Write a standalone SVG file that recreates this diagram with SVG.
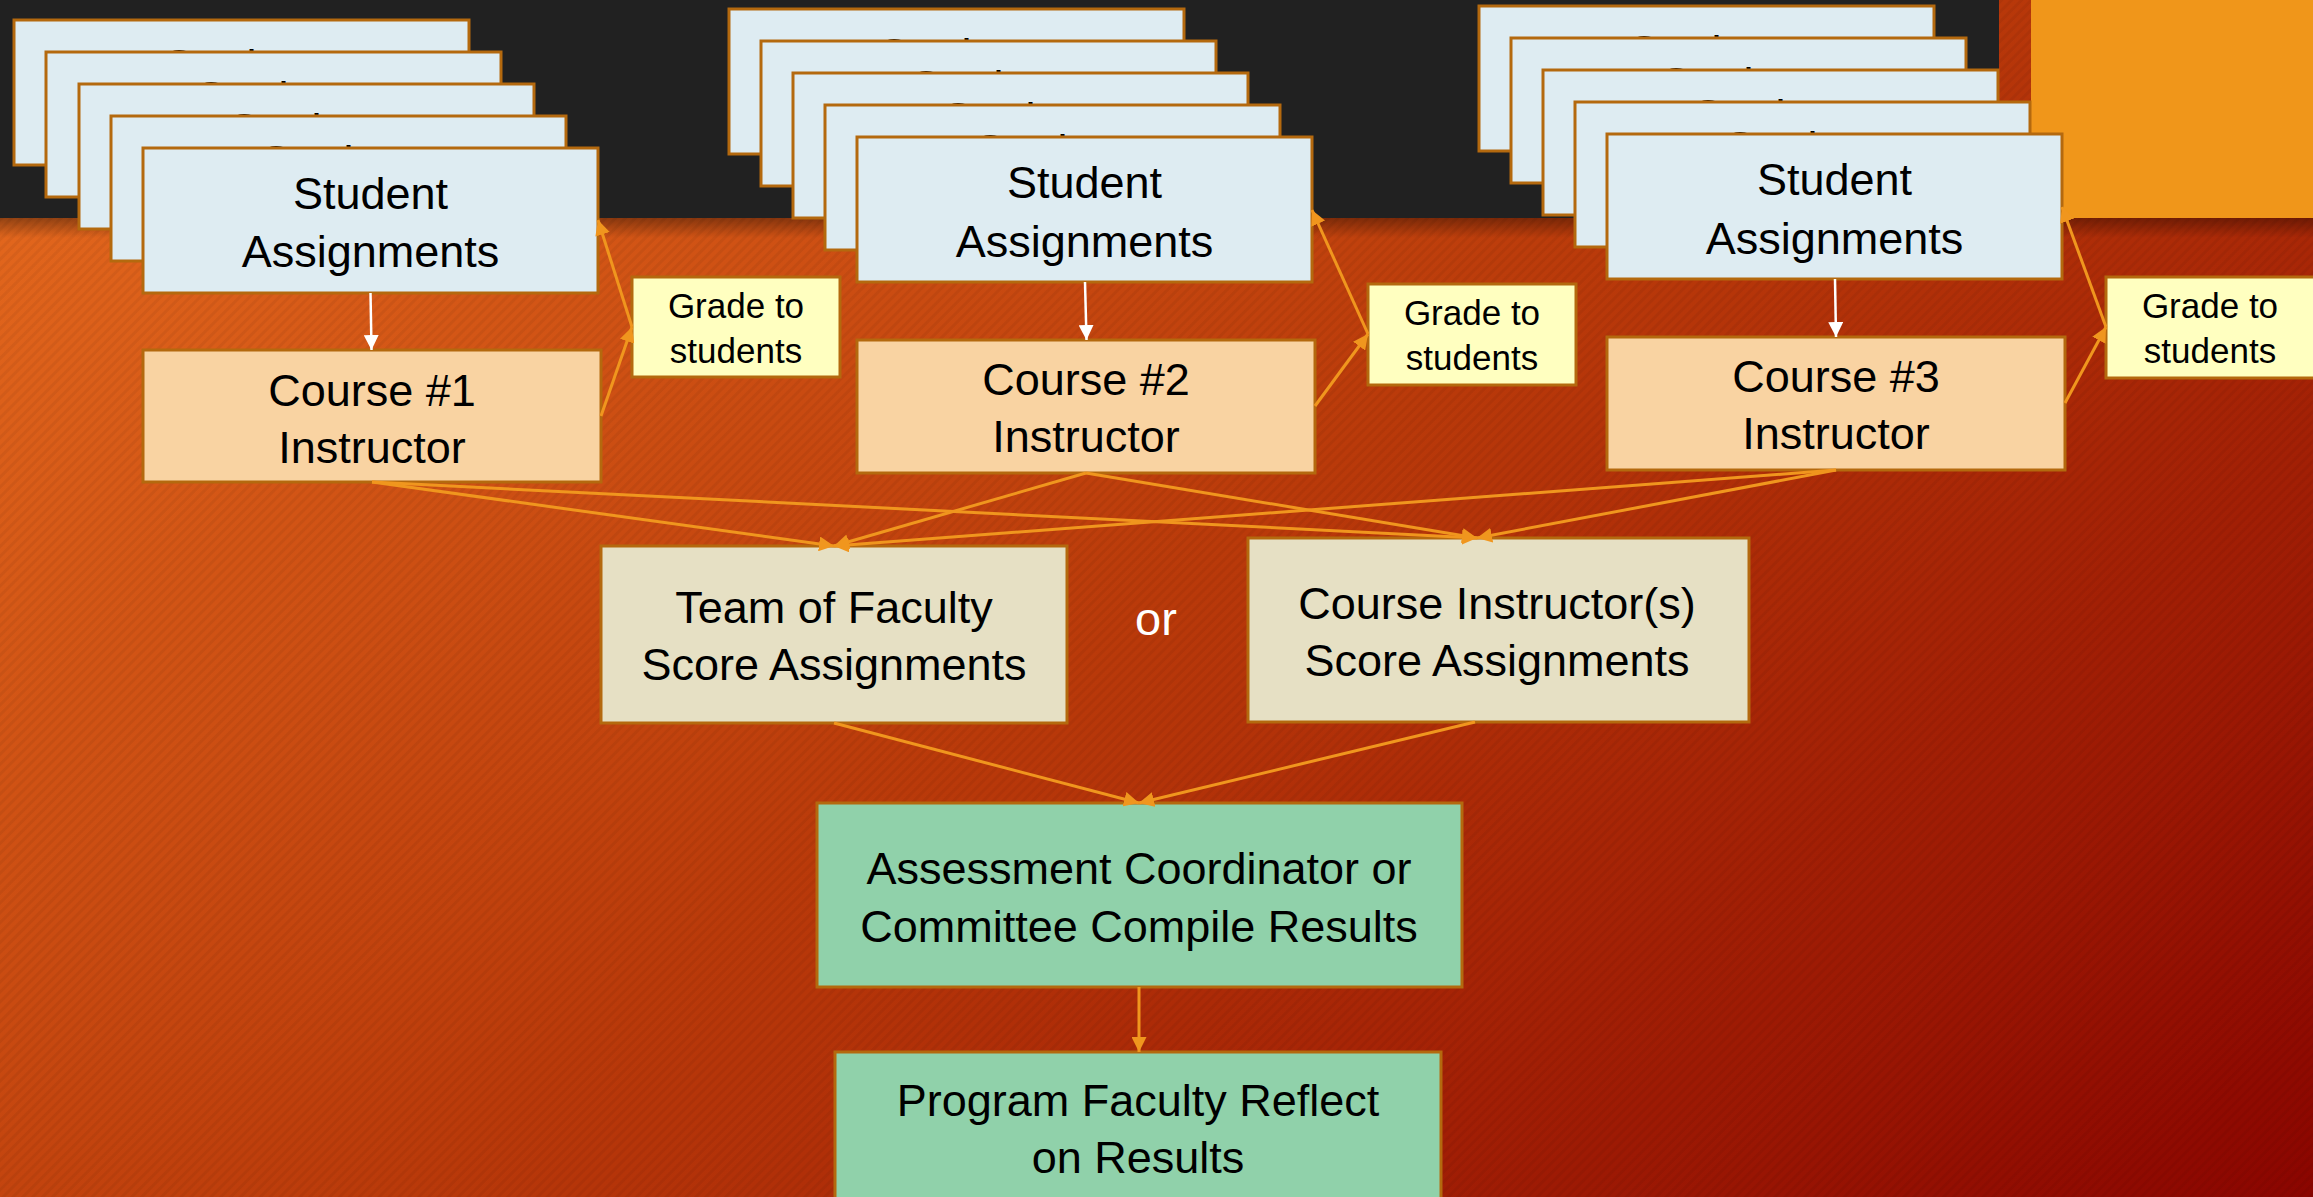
<svg xmlns="http://www.w3.org/2000/svg" width="2313" height="1197" viewBox="0 0 2313 1197">
<defs>
<style>
.t{font-family:"Liberation Sans",Arial,sans-serif;font-size:45px;fill:#000;text-anchor:middle}
.g{font-size:35px}
.sa{fill:#DEECF2;stroke:#B4690E;stroke-width:3}
.ci{fill:#F9D3A2;stroke:#B4690E;stroke-width:3}
.gr{fill:#FFFFC0;stroke:#B4690E;stroke-width:3}
.sc{fill:#E6E0C4;stroke:#B4690E;stroke-width:3}
.gn{fill:#90D1AA;stroke:#B4690E;stroke-width:3}
.c{fill:none;stroke:#F0961E;stroke-width:3;marker-end:url(#ah)}
.w{fill:none;stroke:#FFFFFF;stroke-width:2.5;marker-end:url(#aw)}
</style>
<linearGradient id="bg" gradientUnits="userSpaceOnUse" x1="0" y1="0" x2="1434" y2="1868">
<stop offset="0" stop-color="#E96E20"/>
<stop offset="0.5" stop-color="#BA3A0A"/>
<stop offset="1" stop-color="#8B0500"/>
</linearGradient>
<pattern id="hatch" width="7" height="7" patternUnits="userSpaceOnUse" patternTransform="rotate(45)">
<rect x="0" y="0" width="3" height="7" fill="#000" fill-opacity="0.05"/>
</pattern>
<linearGradient id="sh" x1="0" y1="0" x2="0" y2="1">
<stop offset="0" stop-color="#000" stop-opacity="0.35"/>
<stop offset="1" stop-color="#000" stop-opacity="0"/>
</linearGradient>
<marker id="ah" viewBox="0 0 10 10" refX="10" refY="5" markerWidth="15" markerHeight="15" markerUnits="userSpaceOnUse" orient="auto">
<path d="M0,0 L10,5 L0,10 z" fill="#F0961E"/>
</marker>
<marker id="aw" viewBox="0 0 10 10" refX="10" refY="5" markerWidth="15" markerHeight="15" markerUnits="userSpaceOnUse" orient="auto">
<path d="M0,0 L10,5 L0,10 z" fill="#FFFFFF"/>
</marker>
</defs>

<g id="background">
<rect x="0" y="0" width="2313" height="1197" fill="url(#bg)"/>
<rect x="0" y="0" width="2313" height="1197" fill="url(#hatch)"/>
<rect x="0" y="218" width="2313" height="20" fill="url(#sh)"/>
<rect x="0" y="0" width="1999" height="218" fill="#212121"/>
<rect x="2031" y="0" width="282" height="218" fill="#F0961A"/>
</g>

<g id="stack1">
<rect class="sa" x="14" y="20" width="455" height="145"/>
<text class="t" x="241.5" y="81">Student</text>
<rect class="sa" x="46" y="52" width="455" height="145"/>
<text class="t" x="273.5" y="113">Student</text>
<rect class="sa" x="79" y="84" width="455" height="145"/>
<text class="t" x="306.5" y="145">Student</text>
<rect class="sa" x="111" y="116" width="455" height="145"/>
<text class="t" x="338.5" y="177">Student</text>
<g id="student1">
<rect class="sa" x="143" y="148" width="455" height="145"/>
<text class="t" x="370.5" y="209">Student</text>
<text class="t" x="370.5" y="267">Assignments</text>
</g>
</g>

<g id="stack2">
<rect class="sa" x="729" y="9" width="455" height="145"/>
<text class="t" x="956.5" y="70">Student</text>
<rect class="sa" x="761" y="41" width="455" height="145"/>
<text class="t" x="988.5" y="102">Student</text>
<rect class="sa" x="793" y="73" width="455" height="145"/>
<text class="t" x="1020.5" y="134">Student</text>
<rect class="sa" x="825" y="105" width="455" height="145"/>
<text class="t" x="1052.5" y="166">Student</text>
<g id="student2">
<rect class="sa" x="857" y="137" width="455" height="145"/>
<text class="t" x="1084.5" y="198">Student</text>
<text class="t" x="1084.5" y="257">Assignments</text>
</g>
</g>

<g id="stack3">
<rect class="sa" x="1479" y="6" width="455" height="145"/>
<text class="t" x="1706.5" y="67">Student</text>
<rect class="sa" x="1511" y="38" width="455" height="145"/>
<text class="t" x="1738.5" y="99">Student</text>
<rect class="sa" x="1543" y="70" width="455" height="145"/>
<text class="t" x="1770.5" y="131">Student</text>
<rect class="sa" x="1575" y="102" width="455" height="145"/>
<text class="t" x="1802.5" y="163">Student</text>
<g id="student3">
<rect class="sa" x="1607" y="134" width="455" height="145"/>
<text class="t" x="1834.5" y="195">Student</text>
<text class="t" x="1834.5" y="254">Assignments</text>
</g>
</g>

<g id="course1">
<rect class="ci" x="143" y="350" width="458" height="132"/>
<text class="t" x="372" y="406">Course #1</text>
<text class="t" x="372" y="463">Instructor</text>
</g>
<g id="course2">
<rect class="ci" x="857" y="340" width="458" height="133"/>
<text class="t" x="1086" y="395">Course #2</text>
<text class="t" x="1086" y="452">Instructor</text>
</g>
<g id="course3">
<rect class="ci" x="1607" y="337" width="458" height="133"/>
<text class="t" x="1836" y="392">Course #3</text>
<text class="t" x="1836" y="449">Instructor</text>
</g>

<g id="grade1">
<rect class="gr" x="632" y="277" width="208" height="100"/>
<text class="t g" x="736" y="318">Grade to</text>
<text class="t g" x="736" y="363">students</text>
</g>
<g id="grade2">
<rect class="gr" x="1368" y="284" width="208" height="101"/>
<text class="t g" x="1472" y="325">Grade to</text>
<text class="t g" x="1472" y="370">students</text>
</g>
<g id="grade3">
<rect class="gr" x="2106" y="277" width="210" height="101"/>
<text class="t g" x="2210" y="318">Grade to</text>
<text class="t g" x="2210" y="363">students</text>
</g>

<g id="team">
<rect class="sc" x="601" y="546" width="466" height="177"/>
<text class="t" x="834" y="623">Team of Faculty</text>
<text class="t" x="834" y="680">Score Assignments</text>
</g>
<g id="or-label">
<text class="t" x="1156" y="635" style="fill:#FFFFFF;font-size:47px">or</text>
</g>
<g id="instructors">
<rect class="sc" x="1248" y="538" width="501" height="184"/>
<text class="t" x="1497" y="619">Course Instructor(s)</text>
<text class="t" x="1497" y="676">Score Assignments</text>
</g>
<g id="compile">
<rect class="gn" x="817" y="803" width="645" height="184"/>
<text class="t" x="1139" y="884">Assessment Coordinator or</text>
<text class="t" x="1139" y="942">Committee Compile Results</text>
</g>
<g id="reflect">
<rect class="gn" x="835" y="1052" width="606" height="200"/>
<text class="t" x="1138" y="1116">Program Faculty Reflect</text>
<text class="t" x="1138" y="1173">on Results</text>
</g>

<g id="connectors">
<path class="w" d="M370.5,293 L371.5,350"/>
<path class="w" d="M1085,282 L1086.5,340"/>
<path class="w" d="M1835,279 L1836,337"/>
<path class="c" d="M601,416 L632,327"/>
<path class="c" d="M632,327 L598,220"/>
<path class="c" d="M1315,406 L1368,334"/>
<path class="c" d="M1368,334 L1312,210"/>
<path class="c" d="M2065,403 L2106,327"/>
<path class="c" d="M2106,327 L2062,207"/>
<path class="c" d="M372,482 L834,546"/>
<path class="c" d="M1086,473 L834,546"/>
<path class="c" d="M1836,470 L834,546"/>
<path class="c" d="M372,482 L1477,538"/>
<path class="c" d="M1086,473 L1477,538"/>
<path class="c" d="M1836,470 L1477,538"/>
<path class="c" d="M834,723 L1139,803"/>
<path class="c" d="M1475,722 L1139,803"/>
<path class="c" d="M1139,987 L1139,1052"/>
</g>
</svg>
